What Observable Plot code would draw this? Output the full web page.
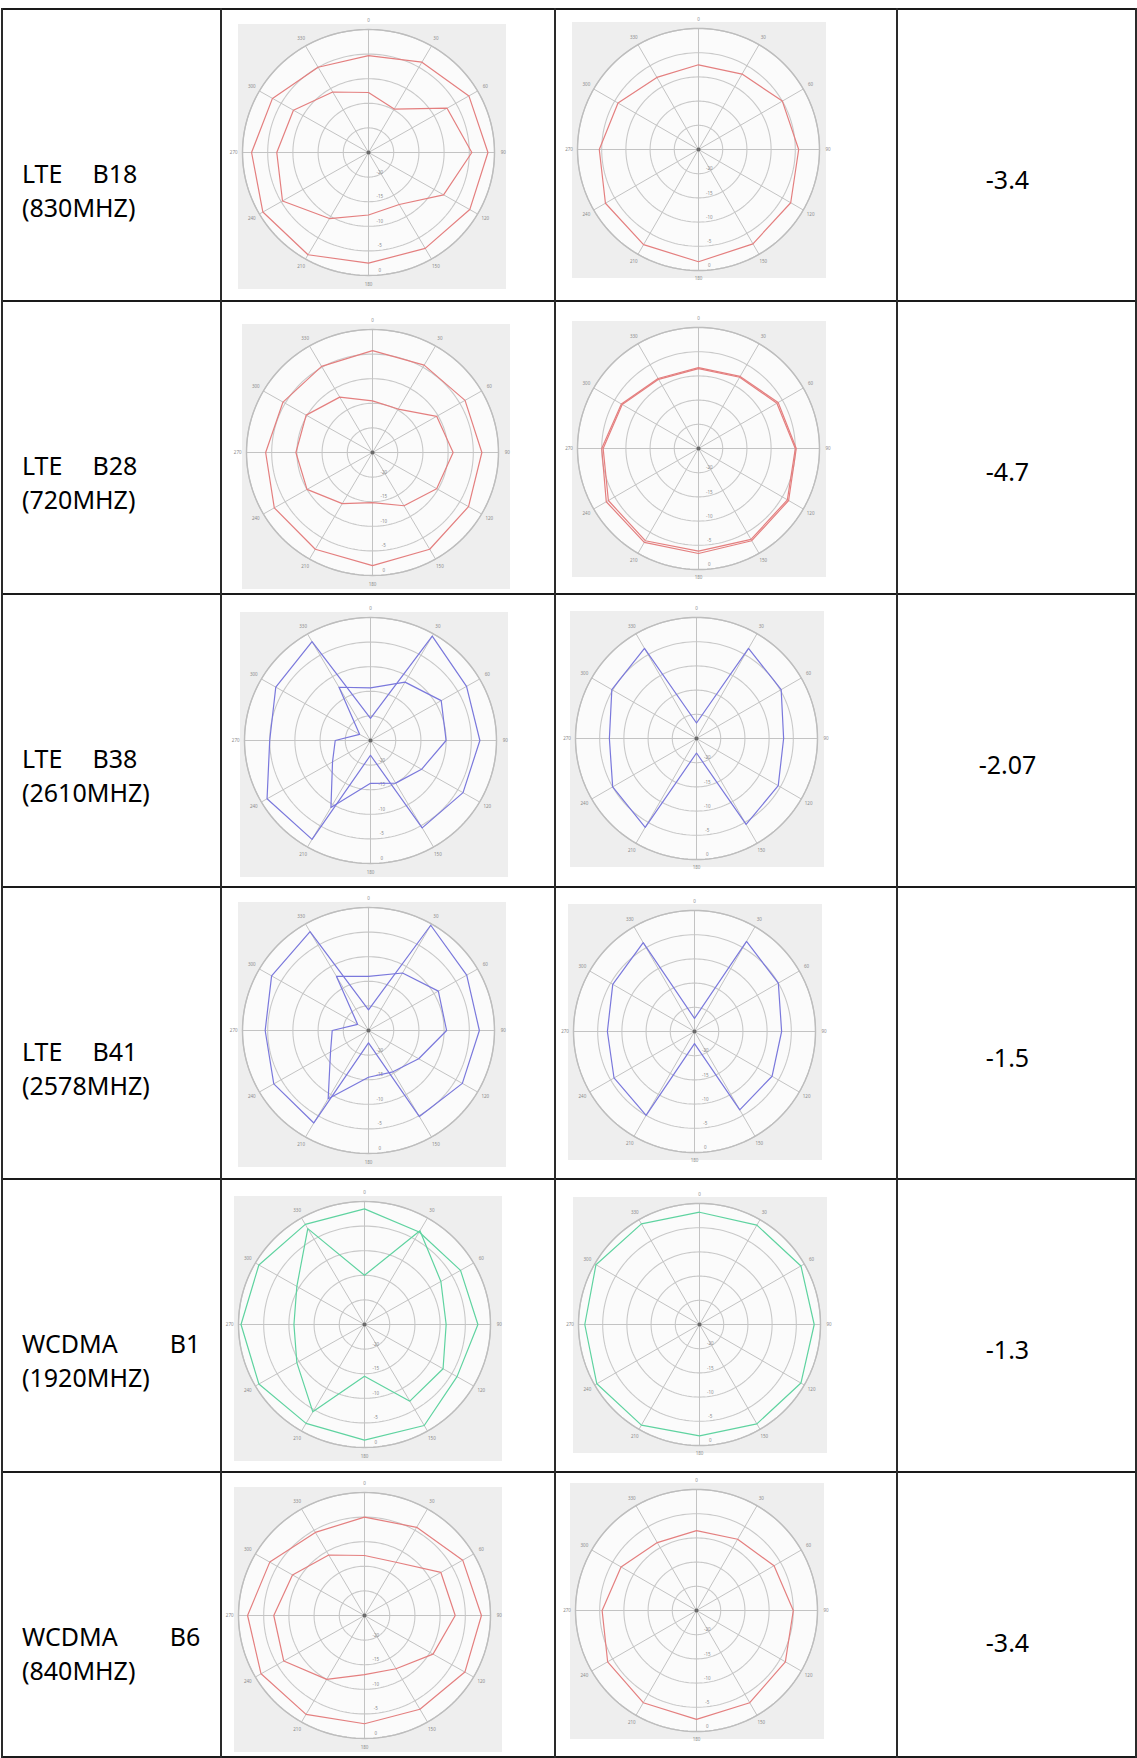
<!DOCTYPE html>
<html><head><meta charset="utf-8">
<script src="https://cdn.jsdelivr.net/npm/d3@7"></script>
<script src="https://cdn.jsdelivr.net/npm/@observablehq/plot@0.6"></script>
<style>
html,body{margin:0;padding:0;background:#fff;}
#page{position:relative;width:1137px;height:1758px;overflow:hidden;font-family:"Noto Sans","Open Sans",sans-serif;color:#000;}
.hl{position:absolute;height:1.5px;background:#1a1a1a;}
.vl{position:absolute;width:1.8px;background:#2a2a2a;}
.lbl{position:absolute;font-size:25px;line-height:25px;white-space:pre;transform:translateY(-50%);}
.val{position:absolute;font-size:25px;line-height:25px;text-align:center;transform:translate(-50%,-50%);}
.pp{position:absolute;}
.pp svg{display:block;}
</style></head><body><div id="page"></div>
<script>
// ---------------- data ----------------
const techs = ["LTE", "LTE", "LTE", "LTE", "WCDMA", "WCDMA"];
const bandNums = ["B18", "B28", "B38", "B41", "B1", "B6"];
const freqs = ["(830MHZ)", "(720MHZ)", "(2610MHZ)", "(2578MHZ)", "(1920MHZ)", "(840MHZ)"];
const gains = ["-3.4", "-4.7", "-2.07", "-1.5", "-1.3", "-3.4"];
const lineColors = ["red", "red", "blue", "blue", "green", "red"];

const angles = [0, 30, 60, 90, 120, 150, 180, 210, 240, 270, 300, 330];
const ringValues = [-20, -15, -10, -5, 0];
const radialMin = -25;

// left pattern (two cuts) and right pattern, gain in dB at each angle
const b18Left1 = [-5.3, -3.8, -2.0, -1.3, -1.8, -2.5, -2.5, -1.0, -0.8, -1.8, -3.0, -5.0];
const b18Left2 = [-12.8, -14.8, -7.0, -4.5, -7.8, -12.8, -12.3, -9.5, -5.3, -6.8, -7.8, -10.8];
const b18Right = [-7.5, -7.0, -5.0, -4.3, -3.0, -2.5, -1.8, -2.3, -2.8, -4.5, -5.8, -7.8];

const b28Left1 = [-4.3, -4.5, -3.8, -3.3, -3.0, -2.3, -2.0, -2.3, -2.5, -3.8, -4.5, -4.8];
const b28Left2 = [-14.5, -14.8, -10.3, -9.0, -10.3, -12.5, -14.8, -13.0, -10.0, -9.8, -9.8, -12.0];
const b28Right1 = [-8.5, -8.0, -6.3, -5.0, -3.8, -3.3, -3.8, -3.0, -3.5, -5.3, -6.8, -8.5];
const b28Right2 = [-8.3, -7.8, -6.0, -4.8, -3.5, -3.0, -3.3, -2.6, -3.0, -5.0, -6.6, -8.3];

const b38Left1 = [-20.5, -0.5, -3.0, -3.3, -3.8, -4.5, -22.0, -1.8, -1.3, -5.0, -3.3, -1.8];
const b38Left2 = [-14.3, -11.3, -8.8, -10.0, -13.3, -15.0, -16.3, -9.3, -16.3, -18.0, -22.5, -12.5];
const b38Right = [-21.8, -3.5, -4.8, -7.0, -5.5, -4.5, -22.0, -3.8, -5.0, -7.0, -4.8, -3.5];

const b41Left1 = [-20.8, -0.3, -2.5, -3.0, -3.5, -4.8, -22.5, -3.3, -3.3, -4.5, -2.8, -1.8];
const b41Left2 = [-14.0, -11.5, -9.0, -9.5, -13.5, -15.3, -15.5, -9.0, -16.3, -17.8, -22.5, -12.3];
const b41Right = [-22.3, -3.5, -5.0, -7.0, -6.5, -6.3, -22.5, -5.0, -5.8, -7.0, -5.5, -3.8];

const b1Left1 = [-1.5, -3.3, -3.0, -2.5, -3.8, -1.3, -1.5, -1.8, -0.8, -0.5, -0.8, -1.5];
const b1Left2 = [-15.0, -3.0, -7.5, -8.8, -7.0, -7.0, -14.5, -4.5, -9.5, -11.0, -9.5, -2.5];
const b1Right = [-1.8, -1.3, -0.8, -1.3, -0.8, -1.3, -2.0, -1.0, -0.5, -1.3, -0.3, -1.0];

const b6Left1 = [-5.0, -4.3, -2.5, -1.8, -2.0, -3.0, -3.0, -1.8, -1.3, -1.8, -3.3, -5.5];
const b6Left2 = [-12.8, -12.5, -7.5, -7.0, -9.3, -12.5, -13.0, -10.0, -6.5, -7.0, -8.5, -10.8];
const b6Right = [-8.5, -8.0, -6.5, -5.0, -3.8, -3.0, -2.5, -3.0, -3.8, -5.5, -7.0, -8.8];

const leftPatterns = [[b18Left1, b18Left2], [b28Left1, b28Left2], [b38Left1, b38Left2], [b41Left1, b41Left2], [b1Left1, b1Left2], [b6Left1, b6Left2]];
const rightPatterns = [[b18Right], [b28Right1, b28Right2], [b38Right], [b41Right], [b1Right], [b6Right]];

// ---------------- layout & style ----------------
const palette = {red: "#e47f7f", blue: "#7a78dc", green: "#5fd3a0"};
const rowTops = [8, 300, 593, 886, 1178, 1471];
const tableBottom = 1756;
const colXs = [1, 220, 554, 896, 1135];
const leftCenters = [[368, 152], [372, 452], [370, 740], [368, 1030], [364, 1324], [364, 1615]];
const rightCenters = [[698, 149], [698, 448], [696, 738], [694, 1031], [699, 1324], [696, 1610]];
const leftBox = {w: 268, h: 265, ox: 130, oy: 128, rx: 126, ry: 123};
const rightBox = {w: 254, h: 256, ox: 126, oy: 127, rx: 121, ry: 121};

const page = document.getElementById("page");
const rad = a => a * Math.PI / 180;
const rho = v => (v - radialMin) / (0 - radialMin);

function polarPlot(traces, color, box) {
  const rows = traces.flatMap((vals, k) => vals.map((v, i) => ({trace: k, angle: angles[i], value: v})));
  const circle = d3.range(0, 360, 2);
  const ringPts = ringValues.flatMap(rv => circle.map(a => ({ring: rv, angle: a, value: rv})));
  const discPts = circle.map(a => ({angle: a, value: 0}));
  const px = d => rho(d.value) * Math.sin(rad(d.angle));
  const py = d => rho(d.value) * Math.cos(rad(d.angle));
  return Plot.plot({
    width: box.w, height: box.h, margin: 0,
    style: {background: "#eeeeee", overflow: "visible"},
    x: {domain: [-1, 1], range: [box.ox - box.rx, box.ox + box.rx], axis: null},
    y: {domain: [-1, 1], range: [box.oy + box.ry, box.oy - box.ry], axis: null},
    marks: [
      Plot.line(discPts, {x: px, y: py, fill: "#fbfbfb", stroke: "none", curve: "linear-closed"}),
      Plot.line(ringPts, {x: px, y: py, z: "ring", stroke: "#c9c9c9", strokeWidth: 1.1, curve: "linear-closed"}),
      Plot.link(angles, {x1: () => 0, y1: () => 0, x2: a => Math.sin(rad(a)), y2: a => Math.cos(rad(a)), stroke: "#c3c3c3", strokeWidth: 1}),
      Plot.line(discPts, {x: px, y: py, stroke: "#bdbdbd", strokeWidth: 1.4, curve: "linear-closed"}),
      Plot.text(angles, {x: a => 1.07 * Math.sin(rad(a)), y: a => 1.07 * Math.cos(rad(a)), text: a => String(a), fontSize: 4.5, fill: "#8a8a8a"}),
      Plot.text(ringValues, {x: () => 0.09, y: v => -rho(v) + 0.04, text: v => String(v), fontSize: 4.5, fill: "#8a8a8a"}),
      Plot.dot([0], {x: () => 0, y: () => 0, r: 2, fill: "#6a6a6a", stroke: "none"}),
      Plot.line(rows, {x: px, y: py, z: "trace", stroke: palette[color], strokeWidth: 1.2, curve: "linear-closed"})
    ]
  });
}

function addDiv(cls, css, html) {
  const d = document.createElement("div");
  d.className = cls;
  Object.assign(d.style, css);
  if (html != null) d.innerHTML = html;
  page.appendChild(d);
  return d;
}

// table grid
[...rowTops, tableBottom].forEach(y => addDiv("hl", {left: colXs[0] + "px", top: y + "px", width: (colXs[4] - colXs[0] + 2) + "px"}));
colXs.forEach(x => addDiv("vl", {left: x + "px", top: rowTops[0] + "px", height: (tableBottom - rowTops[0] + 1.5) + "px"}));

techs.forEach((tech, i) => {
  const top = rowTops[i];
  const gap = tech === "LTE" ? 30 : 52;
  addDiv("lbl", {left: "22px", top: (top + 165) + "px"}, `<span>${tech}</span><span style="margin-left:${gap}px">${bandNums[i]}</span>`);
  addDiv("lbl", {left: "22px", top: (top + 199) + "px"}, freqs[i]);
  addDiv("val", {left: ((colXs[3] + colXs[4]) / 2 - 8) + "px", top: (top + 171) + "px"}, gains[i]);

  const lp = addDiv("pp", {left: (leftCenters[i][0] - leftBox.ox) + "px", top: (leftCenters[i][1] - leftBox.oy) + "px"});
  lp.appendChild(polarPlot(leftPatterns[i], lineColors[i], leftBox));
  const rp = addDiv("pp", {left: (rightCenters[i][0] - rightBox.ox) + "px", top: (rightCenters[i][1] - rightBox.oy) + "px"});
  rp.appendChild(polarPlot(rightPatterns[i], lineColors[i], rightBox));
});
</script>
</body></html>
